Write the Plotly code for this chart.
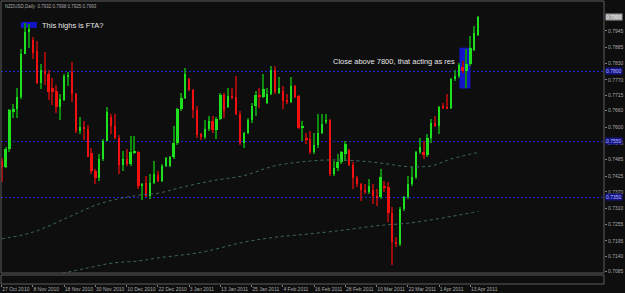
import pandas as pd
import plotly.graph_objects as go

# ---------------- data ----------------
dates = pd.bdate_range("2010-10-27", periods=123)
cats = [d.strftime("%Y-%m-%d") for d in dates]

open_ = [0.7481, 0.7457, 0.7522, 0.7657, 0.7666, 0.7709, 0.7864, 0.7941, 0.7912, 0.7873,
         0.7760, 0.7801, 0.7791, 0.7742, 0.7729, 0.7674, 0.7699, 0.7783, 0.7797, 0.7721,
         0.7587, 0.7603, 0.7596, 0.7508, 0.7445, 0.7419, 0.7487, 0.7552, 0.7639, 0.7606,
         0.7564, 0.7467, 0.7487, 0.7469, 0.7511, 0.7513, 0.7392, 0.7400, 0.7356, 0.7400,
         0.7431, 0.7410, 0.7462, 0.7463, 0.7493, 0.7543, 0.7665, 0.7706, 0.7772, 0.7733,
         0.7663, 0.7576, 0.7566, 0.7596, 0.7623, 0.7590, 0.7629, 0.7716, 0.7673, 0.7712,
         0.7709, 0.7649, 0.7543, 0.7579, 0.7626, 0.7677, 0.7716, 0.7709, 0.7689, 0.7721,
         0.7804, 0.7724, 0.7730, 0.7699, 0.7690, 0.7748, 0.7712, 0.7597, 0.7564, 0.7558,
         0.7514, 0.7538, 0.7582, 0.7621, 0.7626, 0.7433, 0.7455, 0.7477, 0.7507, 0.7519,
         0.7467, 0.7419, 0.7398, 0.7376, 0.7368, 0.7376, 0.7356, 0.7350, 0.7388, 0.7386,
         0.7293, 0.7190, 0.7184, 0.7309, 0.7350, 0.7398, 0.7424, 0.7511, 0.7511, 0.7502,
         0.7564, 0.7617, 0.7606, 0.7675, 0.7673, 0.7668, 0.7772, 0.7784, 0.7816, 0.7801,
         0.7825, 0.7878, 0.7932]
high = [0.7490, 0.7531, 0.7665, 0.7683, 0.7742, 0.7879, 0.7973, 0.7971, 0.7922, 0.7908,
        0.7825, 0.7871, 0.7804, 0.7776, 0.7753, 0.7721, 0.7790, 0.7797, 0.7835, 0.7724,
        0.7639, 0.7622, 0.7610, 0.7528, 0.7451, 0.7505, 0.7558, 0.7673, 0.7647, 0.7647,
        0.7573, 0.7517, 0.7522, 0.7570, 0.7570, 0.7517, 0.7403, 0.7428, 0.7433, 0.7481,
        0.7445, 0.7469, 0.7495, 0.7499, 0.7606, 0.7671, 0.7724, 0.7811, 0.7778, 0.7736,
        0.7677, 0.7582, 0.7626, 0.7641, 0.7641, 0.7638, 0.7724, 0.7724, 0.7742, 0.7742,
        0.7784, 0.7659, 0.7585, 0.7635, 0.7689, 0.7730, 0.7742, 0.7790, 0.7742, 0.7819,
        0.7819, 0.7780, 0.7748, 0.7718, 0.7780, 0.7752, 0.7715, 0.7623, 0.7582, 0.7588,
        0.7582, 0.7649, 0.7649, 0.7647, 0.7629, 0.7481, 0.7505, 0.7517, 0.7552, 0.7522,
        0.7475, 0.7427, 0.7400, 0.7398, 0.7416, 0.7398, 0.7380, 0.7451, 0.7410, 0.7404,
        0.7315, 0.7208, 0.7315, 0.7356, 0.7427, 0.7457, 0.7517, 0.7564, 0.7552, 0.7578,
        0.7629, 0.7641, 0.7677, 0.7689, 0.7718, 0.7778, 0.7804, 0.7831, 0.7837, 0.7882,
        0.7926, 0.7962, 0.7998]
low = [0.7404, 0.7454, 0.7514, 0.7635, 0.7635, 0.7701, 0.7861, 0.7884, 0.7843, 0.7754,
       0.7736, 0.7753, 0.7699, 0.7682, 0.7653, 0.7625, 0.7695, 0.7747, 0.7692, 0.7579,
       0.7578, 0.7557, 0.7493, 0.7433, 0.7398, 0.7410, 0.7481, 0.7550, 0.7576, 0.7558,
       0.7433, 0.7445, 0.7463, 0.7463, 0.7505, 0.7380, 0.7341, 0.7350, 0.7344, 0.7398,
       0.7404, 0.7404, 0.7457, 0.7457, 0.7487, 0.7538, 0.7659, 0.7701, 0.7730, 0.7635,
       0.7564, 0.7555, 0.7558, 0.7588, 0.7580, 0.7558, 0.7626, 0.7635, 0.7671, 0.7701,
       0.7645, 0.7538, 0.7528, 0.7576, 0.7617, 0.7641, 0.7671, 0.7704, 0.7683, 0.7716,
       0.7718, 0.7718, 0.7665, 0.7683, 0.7688, 0.7706, 0.7594, 0.7552, 0.7540, 0.7505,
       0.7505, 0.7528, 0.7576, 0.7612, 0.7427, 0.7427, 0.7445, 0.7469, 0.7481, 0.7463,
       0.7380, 0.7386, 0.7338, 0.7362, 0.7362, 0.7327, 0.7321, 0.7344, 0.7368, 0.7261,
       0.7107, 0.7172, 0.7178, 0.7303, 0.7344, 0.7392, 0.7416, 0.7505, 0.7487, 0.7495,
       0.7543, 0.7600, 0.7576, 0.7665, 0.7665, 0.7665, 0.7766, 0.7778, 0.7796, 0.7742,
       0.7819, 0.7873, 0.7925]
close = [0.7457, 0.7522, 0.7661, 0.7666, 0.7709, 0.7864, 0.7941, 0.7953, 0.7867, 0.7760,
         0.7804, 0.7791, 0.7728, 0.7725, 0.7674, 0.7703, 0.7785, 0.7786, 0.7721, 0.7587,
         0.7603, 0.7596, 0.7496, 0.7445, 0.7419, 0.7487, 0.7552, 0.7657, 0.7606, 0.7564,
         0.7467, 0.7487, 0.7469, 0.7514, 0.7515, 0.7392, 0.7399, 0.7356, 0.7400, 0.7433,
         0.7410, 0.7462, 0.7490, 0.7493, 0.7543, 0.7665, 0.7706, 0.7790, 0.7733, 0.7663,
         0.7572, 0.7566, 0.7596, 0.7623, 0.7590, 0.7629, 0.7716, 0.7659, 0.7712, 0.7706,
         0.7649, 0.7543, 0.7579, 0.7626, 0.7677, 0.7716, 0.7709, 0.7736, 0.7721, 0.7804,
         0.7728, 0.7742, 0.7695, 0.7690, 0.7748, 0.7709, 0.7597, 0.7606, 0.7558, 0.7514,
         0.7538, 0.7582, 0.7612, 0.7624, 0.7433, 0.7455, 0.7477, 0.7513, 0.7540, 0.7467,
         0.7419, 0.7398, 0.7376, 0.7368, 0.7392, 0.7356, 0.7350, 0.7424, 0.7384, 0.7293,
         0.7190, 0.7184, 0.7309, 0.7350, 0.7398, 0.7424, 0.7511, 0.7531, 0.7502, 0.7564,
         0.7617, 0.7606, 0.7674, 0.7671, 0.7668, 0.7774, 0.7784, 0.7823, 0.7801, 0.7827,
         0.7884, 0.7938, 0.7993]

# moving averages (read at sparse bars)
ma_fast_idx = [0, 8, 17, 25, 34, 40, 46, 54, 62, 70, 82, 91, 98, 104, 110, 115, 122]
ma_fast = [0.7202, 0.7226, 0.7279, 0.7327, 0.7356, 0.7365, 0.7386, 0.7410, 0.7428, 0.7463,
           0.7483, 0.7481, 0.7471, 0.7460, 0.7463, 0.7487, 0.7511]
ma_slow_idx = [14, 21, 28, 35, 40, 51, 62, 70, 79, 88, 96, 104, 113, 122]
ma_slow = [0.7075, 0.7095, 0.7115, 0.7123, 0.7134, 0.7154, 0.7190, 0.7208, 0.7220, 0.7234,
           0.7249, 0.7258, 0.7277, 0.7300]

levels = [0.7800, 0.7550, 0.7350]
y_ticks = [0.7945, 0.7885, 0.7830, 0.7770, 0.7715, 0.7660, 0.7600, 0.7545, 0.7485, 0.7425,
           0.7370, 0.7310, 0.7255, 0.7195, 0.7140, 0.7085]
title_text = "NZDUSD,Daily  0.7932 0.7998 0.7925 0.7993"
last_price = 0.7993

# ---------------- styling ----------------
BG = "#0e0e0e"
UP_BODY, DN_BODY = "#1ee01e", "#f01010"
UP_WICK, DN_WICK = "#0e8a0e", "#9a0c0c"
FRAME = "#5c5c5c"
TXT = "#a8a8a8"
LEVEL = "#2424d8"

up = [c >= o for o, c in zip(open_, close)]
body_base = [min(o, c) for o, c in zip(open_, close)]
body_h = [max(abs(c - o), 0.00025) for o, c in zip(open_, close)]
wick_h = [h - l for h, l in zip(high, low)]

fig = go.Figure()
fig.add_trace(go.Bar(x=cats, y=wick_h, base=low, width=0.28,
                     marker=dict(color=[UP_WICK if u else DN_WICK for u in up], line=dict(width=0)),
                     hoverinfo="skip"))
fig.add_trace(go.Bar(x=cats, y=body_h, base=body_base, width=0.58,
                     marker=dict(color=[UP_BODY if u else DN_BODY for u in up], line=dict(width=0)),
                     hoverinfo="skip"))
fig.add_trace(go.Scatter(x=[cats[i] for i in ma_fast_idx], y=ma_fast, mode="lines",
                         line=dict(color="#3f6666", width=1, dash="dot", shape="spline"),
                         hoverinfo="skip"))
fig.add_trace(go.Scatter(x=[cats[i] for i in ma_slow_idx], y=ma_slow, mode="lines",
                         line=dict(color="#3f6666", width=1, dash="dot", shape="spline"),
                         hoverinfo="skip"))

shapes = []
for lv in levels:
    shapes.append(dict(type="line", xref="paper", x0=0, x1=1, yref="y", y0=lv, y1=lv,
                       line=dict(color=LEVEL, width=1, dash="2px,2px"), layer="below"))
# annotation boxes
shapes.append(dict(type="rect", xref="x", yref="y", x0=4.9, x1=9.0, y0=0.7956, y1=0.7977,
                   fillcolor="#1414c8", line=dict(width=0), layer="below"))
shapes.append(dict(type="rect", xref="x", yref="y", x0=117.2, x1=120.0, y0=0.7739, y1=0.7885,
                   fillcolor="#1414c8", line=dict(width=0), layer="below"))
# frames
shapes.append(dict(type="rect", xref="paper", yref="paper", x0=0, x1=1, y0=0.0387, y1=1,
                   line=dict(color=FRAME, width=1)))
shapes.append(dict(type="rect", xref="paper", yref="paper", x0=0, x1=1, y0=0, y1=0.0317,
                   line=dict(color=FRAME, width=1)))

annotations = [
    dict(xref="paper", yref="paper", x=0.004, y=0.995, xanchor="left", yanchor="top",
         text=title_text, showarrow=False, font=dict(size=4.5, color=TXT, family="Liberation Sans")),
    dict(xref="x", yref="y", x=9.8, y=0.7966, xanchor="left", yanchor="middle",
         text="This highs is FTA?", showarrow=False,
         font=dict(size=7.5, color="#e6e6e6", family="Liberation Sans")),
    dict(xref="x", yref="y", x=84.3, y=0.7835, xanchor="left", yanchor="middle",
         text="Close above 7800, that acting as res", showarrow=False,
         font=dict(size=7.5, color="#e6e6e6", family="Liberation Sans")),
    dict(xref="paper", yref="y", x=1, y=last_price, xanchor="left", yanchor="middle", xshift=1,
         text=f"{last_price:.4f}", showarrow=False, bgcolor="#a0a0a0", borderpad=0,
         font=dict(size=5, color="#f4f4f4", family="Liberation Sans")),
]
for lv in levels:
    annotations.append(dict(xref="paper", yref="y", x=1, y=lv, xanchor="left", yanchor="middle",
                            xshift=1, text=f"{lv:.4f}", showarrow=False, bgcolor="#14148a",
                            borderpad=0, font=dict(size=5, color="#b8b8f0", family="Liberation Sans")))

tick_idx = list(range(0, len(cats), 8))
fig.update_layout(
    width=625, height=293, margin=dict(l=1, r=19, t=1, b=8),
    paper_bgcolor=BG, plot_bgcolor=BG, barmode="overlay", bargap=0, showlegend=False,
    shapes=shapes, annotations=annotations,
    xaxis=dict(type="category", range=[-0.18, 154.2], tickvals=[cats[i] for i in tick_idx],
               ticktext=[dates[i].strftime("%-d %b %Y") for i in tick_idx], tickangle=0,
               tickfont=dict(size=5, color=TXT, family="Liberation Sans"),
               ticks="outside", ticklen=2, tickcolor="#808080", ticklabelposition="outside right",
               showgrid=False, zeroline=False, showline=False, anchor="free", position=0),
    yaxis=dict(domain=[0.0387, 1], range=[0.70799, 0.80518], side="right",
               tickvals=y_ticks, ticktext=[f"{v:.4f}" for v in y_ticks],
               tickfont=dict(size=5, color=TXT, family="Liberation Sans"),
               ticks="outside", ticklen=2, tickcolor="#808080",
               showgrid=False, zeroline=False, showline=False),
)

fig.write_html("out.html", config={"displayModeBar": False})
